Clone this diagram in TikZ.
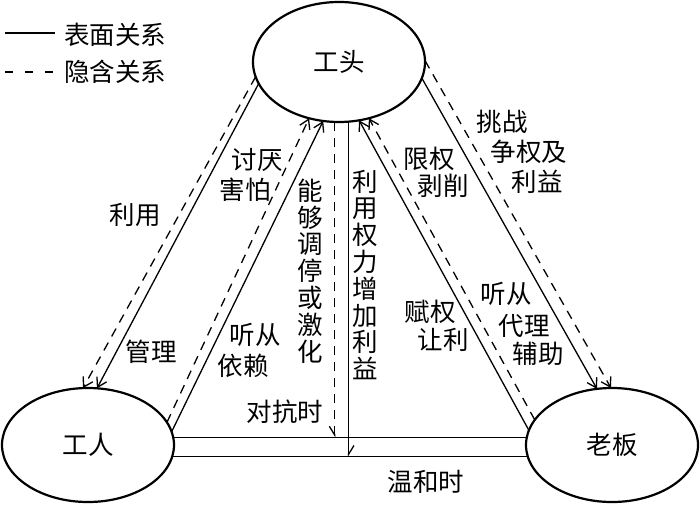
\documentclass[tikz,border=0pt]{standalone}
\usepackage{fontspec}
\setmainfont{Noto Sans CJK SC}
\usetikzlibrary{shapes.geometric,arrows.meta}
\tikzset{
  ell/.style={ellipse, draw, line width=2.2pt, inner sep=0pt, outer sep=0pt, font=\fontsize{25.5}{26}\selectfont},
  lbl/.style={font=\fontsize{25.5}{26.8}\selectfont, inner sep=0pt, align=center},
  rel/.style={line width=1.3pt},
  hid/.style={line width=1.3pt, dash pattern=on 9pt off 7pt},
  tip/.style={-{Straight Barb[length=9pt,width=11pt]}},
  halfr/.style={-{Straight Barb[harpoon,length=9pt,width=11pt]}},
  halfl/.style={-{Straight Barb[harpoon,swap,length=9pt,width=11pt]}},
}
\begin{document}
\begin{tikzpicture}[x=1pt,y=1pt]
\useasboundingbox (0,0) rectangle (700,504);
% nodes
\node[ell, minimum width=172pt, minimum height=120pt] (gt) at (339,442) {工头};
\node[ell, minimum width=172pt, minimum height=114pt] (gr) at (88,59) {工人};
\node[ell, minimum width=172pt, minimum height=114pt] (gb) at (612,59) {老板};
% legend
\coordinate (ls1) at (5,471); \coordinate (ls2) at (55,471);
\coordinate (ld1) at (5,432); \coordinate (ld2) at (55,432);
\draw[rel] (ls1) -- (ls2);
\draw[line width=1.3pt, dash pattern=on 8pt off 12pt] (ld1) -- (ld2);
\node[lbl] (leg1) at (115,469) {表面关系};
\node[lbl] (leg2) at (115,432) {隐含关系};
% left outer pair
\draw[hid,tip] (gt.190) -- (gr.95);
\draw[rel,tip] (gt.195) -- (gr.81);
% left inner pair
\draw[hid,tip] (gr.16) -- (gt.242);
\draw[rel,tip] (gr.9) -- (gt.255);
% double bar
\draw[rel] (gr.5) -- (gb.175);
\draw[rel] (gr.352) -- (gb.188);
% vertical pair
\draw[hid,halfl] (gt.266) -- (gt.266 |- gr.5);
\draw[rel,halfr] (gt.279) -- (gt.279 |- gr.352);
% right inner pair
\draw[hid,tip] (gb.162) -- (gt.298);
\draw[rel,tip] (gb.170) -- (gt.289);
% right outer pair
\draw[rel,tip] (gt.349) -- (gb.105);
\draw[hid,tip] (gt.1) -- (gb.91);
% labels
\node[lbl] (t1) at (135,289) {利用};
\node[lbl] (t2) at (151,152) {管理};
\node[lbl] (t3a) at (257,344) {讨厌};
\node[lbl] (t3b) at (245,314) {害怕};
\node[lbl] (t4a) at (255,169) {听从};
\node[lbl] (t4b) at (243,138) {依赖};
\node[lbl] (t5) at (310,233) {能\\够\\调\\停\\或\\激\\化};
\node[lbl] (t6) at (365,229) {利\\用\\权\\力\\增\\加\\利\\益};
\node[lbl] (t7) at (285,92) {对抗时};
\node[lbl] (t8) at (426,22) {温和时};
\node[lbl] (t9a) at (429,345) {限权};
\node[lbl] (t9b) at (443,318) {剥削};
\node[lbl] (t10a) at (502,382) {挑战};
\node[lbl] (t10b) at (529,352) {争权及};
\node[lbl] (t10c) at (537,322) {利益};
\node[lbl] (t11a) at (430,192) {赋权};
\node[lbl] (t11b) at (443,164) {让利};
\node[lbl] (t12a) at (506,210) {听从};
\node[lbl] (t12b) at (524,178) {代理};
\node[lbl] (t12c) at (538,150) {辅助};
\end{tikzpicture}
\end{document}
